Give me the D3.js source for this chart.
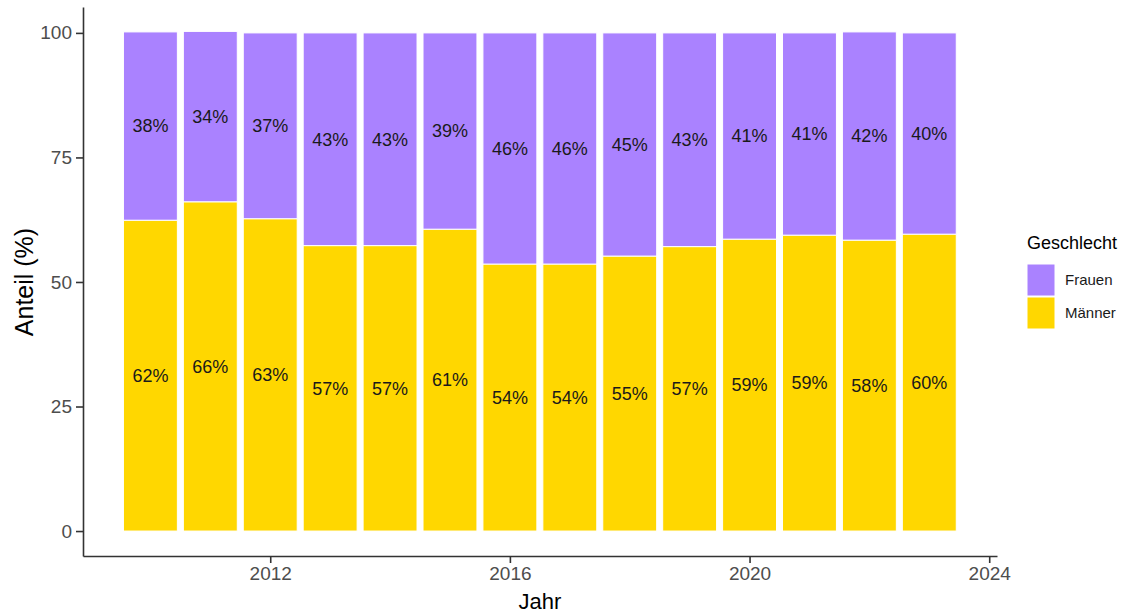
<!DOCTYPE html>
<html lang="de">
<head>
  <meta charset="UTF-8">
  <title>Anteil nach Geschlecht</title>
  <script src="https://d3js.org/d3.v7.min.js"></script>
  <style>
    body { margin: 0; background: white; }
    text { font-family: 'Liberation Sans', Arial, sans-serif; }
    .axis text { fill: #4d4d4d; font-size: 19px; }
    .axis path, .axis line { stroke: #333; stroke-width: 1.6px; }
  </style>
</head>
<body>
  <svg width="1121" height="616"></svg>

  <script>
    // Daten
    const years = [2010, 2011, 2012, 2013, 2014, 2015, 2016, 2017, 2018, 2019, 2020, 2021, 2022, 2023];
    const maenner = [62.4, 66.1, 62.7, 57.3, 57.3, 60.6, 53.6, 53.6, 55.2, 57.1, 58.6, 59.4, 58.4, 59.6];
    const frauen  = [37.8, 34.2, 37.3, 42.7, 42.7, 39.4, 46.4, 46.4, 44.8, 42.9, 41.4, 40.6, 41.8, 40.4];
    const groups = ["Frauen", "Männer"];
    const colors = ["#aa82ff", "#ffd700"];
    const xTicks = [2012, 2016, 2020, 2024];
    const yTicks = [0, 25, 50, 75, 100];

    const svg = d3.select("svg");
    const pLeft = 83, pRight = 997, pTop = 7, pBottom = 556;

    const x = d3.scaleLinear().domain([2008.875, 2024.13]).range([pLeft, pRight]);
    const y = d3.scaleLinear().domain([-5.01, 105.2]).range([pBottom, pTop]);
    const color = d3.scaleOrdinal().domain(groups).range(colors);

    const table = years.map((yr, i) => ({ year: yr, "Männer": maenner[i], "Frauen": frauen[i] }));
    // Männer unten, Frauen oben
    const stack = d3.stack().keys(["Männer", "Frauen"])(table);

    const bw = (x(1) - x(0)) * 0.9;

    const layers = svg.append("g").selectAll("g")
      .data(stack)
      .enter().append("g")
      .attr("fill", d => color(d.key));

    layers.selectAll("rect")
      .data(d => d)
      .enter().append("rect")
      .attr("x", d => x(d.data.year) - bw / 2)
      .attr("width", bw)
      .attr("y", d => y(d[1]))
      .attr("height", d => y(d[0]) - y(d[1]))
      .attr("stroke", "white")
      .attr("stroke-width", 1);

    // Prozent-Beschriftungen in der Mitte der Segmente
    layers.selectAll("text")
      .data(d => d)
      .enter().append("text")
      .attr("x", d => x(d.data.year))
      .attr("y", d => y((d[0] + d[1]) / 2))
      .attr("dy", "0.35em")
      .attr("text-anchor", "middle")
      .style("font-size", "18px")
      .style("fill", "#1a1a1a")
      .text(d => Math.round(d[1] - d[0]) + "%");

    // Achsen
    svg.append("g")
      .attr("class", "axis")
      .attr("transform", "translate(0," + pBottom + ")")
      .call(d3.axisBottom(x).tickValues(xTicks).tickFormat(d3.format("d")).tickSize(7).tickSizeOuter(0).tickPadding(4));

    svg.append("g")
      .attr("class", "axis")
      .attr("transform", "translate(" + pLeft + ",0)")
      .call(d3.axisLeft(y).tickValues(yTicks).tickSize(7).tickSizeOuter(0).tickPadding(4));

    // Achsentitel
    svg.append("text")
      .attr("x", (pLeft + pRight) / 2)
      .attr("y", 609)
      .attr("text-anchor", "middle")
      .style("font-size", "22px")
      .style("fill", "black")
      .text("Jahr");

    svg.append("text")
      .attr("transform", "translate(33,282) rotate(-90)")
      .attr("text-anchor", "middle")
      .style("font-size", "25px")
      .style("fill", "black")
      .text("Anteil (%)");

    // Legende
    const legend = svg.append("g").attr("transform", "translate(1027,0)");
    legend.append("text")
      .attr("x", 0)
      .attr("y", 249)
      .style("font-size", "18px")
      .style("fill", "black")
      .text("Geschlecht");

    const items = legend.selectAll(".item")
      .data(groups)
      .enter().append("g")
      .attr("class", "item")
      .attr("transform", (d, i) => "translate(0," + (264 + i * 33) + ")");

    items.append("rect")
      .attr("width", 28)
      .attr("height", 32)
      .attr("fill", d => color(d))
      .attr("stroke", "white")
      .attr("stroke-width", 1);

    items.append("text")
      .attr("x", 38)
      .attr("y", 16)
      .attr("dy", "0.35em")
      .style("font-size", "15px")
      .style("fill", "#1a1a1a")
      .text(d => d);
  </script>
</body>
</html>
